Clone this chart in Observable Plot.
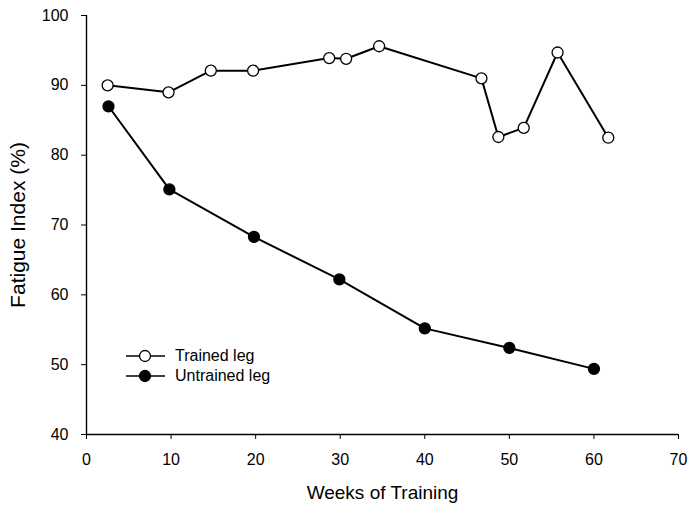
<!DOCTYPE html>
<html>
<head>
<meta charset="utf-8">
<script src="https://cdn.jsdelivr.net/npm/d3@7"></script>
<script src="https://cdn.jsdelivr.net/npm/@observablehq/plot@0.6"></script>
<style>
  body { margin: 0; background: #fff; font-family: "Liberation Sans", Arial, sans-serif; }
  #wrap { position: relative; width: 695px; height: 510px; background: #fff; }
  #wrap svg.plot { display: block; }
  g[aria-label="x-axis label"] text { font-size: 19px; }
  g[aria-label="y-axis label"] text { font-size: 21px; }
  .legend { position: absolute; left: 126px; top: 346px; font-size: 16px; color: #000; }
  .legend .row { display: flex; align-items: center; height: 20px; }
  .legend svg { margin-right: 10px; }
</style>
</head>
<body>
<div id="wrap"></div>
<script>
// ---- data ----
const trainedWeeks   = [2.5, 9.7, 14.7, 19.7, 28.7, 30.7, 34.6, 46.7, 48.7, 51.7, 55.7, 61.7];
const trainedFatigue = [90.0, 89.0, 92.1, 92.1, 93.9, 93.8, 95.6, 91.0, 82.6, 83.9, 94.7, 82.5];
const untrainedWeeks   = [2.6, 9.8, 19.8, 29.9, 40, 50, 60];
const untrainedFatigue = [87.0, 75.1, 68.3, 62.2, 55.2, 52.4, 49.4];
const xTicks = [0, 10, 20, 30, 40, 50, 60, 70];
const yTicks = [40, 50, 60, 70, 80, 90, 100];
const seriesNames = ["Trained leg", "Untrained leg"];
const xTitle = "Weeks of Training";
const yTitle = "Fatigue Index (%)";

const trained = trainedWeeks.map((w, i) => ({week: w, fatigue: trainedFatigue[i]}));
const untrained = untrainedWeeks.map((w, i) => ({week: w, fatigue: untrainedFatigue[i]}));

const chart = Plot.plot({
  width: 695,
  height: 510,
  marginLeft: 86,
  marginRight: 17,
  marginTop: 15,
  marginBottom: 76,
  style: {fontFamily: '"Liberation Sans", Arial, sans-serif', fontSize: "16px", color: "#000", background: "#fff"},
  x: {domain: [0, 70]},
  y: {domain: [40, 100]},
  marks: [
    Plot.ruleX([0], {stroke: "#000", strokeWidth: 1.4}),
    Plot.ruleY([40], {stroke: "#000", strokeWidth: 1.4}),
    Plot.axisX({ticks: xTicks, tickSize: 5, tickPadding: 14, label: xTitle, labelAnchor: "center", labelOffset: 64, labelArrow: "none", stroke: "#000", fill: "#000"}),
    Plot.axisY({ticks: yTicks, tickSize: 5, tickPadding: 13, label: yTitle, labelAnchor: "center", labelOffset: 76, labelArrow: "none", stroke: "#000", fill: "#000"}),
    Plot.line(trained, {x: "week", y: "fatigue", stroke: "#000", strokeWidth: 2}),
    Plot.dot(trained, {x: "week", y: "fatigue", r: 5.5, fill: "#fff", stroke: "#000", strokeWidth: 1.3}),
    Plot.line(untrained, {x: "week", y: "fatigue", stroke: "#000", strokeWidth: 2}),
    Plot.dot(untrained, {x: "week", y: "fatigue", r: 5.5, fill: "#000", stroke: "#000", strokeWidth: 1.3})
  ]
});
chart.classList.add("plot");
const wrap = document.getElementById("wrap");
wrap.appendChild(chart);

// legend (inside plot area, as in the reference)
const legend = document.createElement("div");
legend.className = "legend";
seriesNames.forEach((name, i) => {
  const row = document.createElement("div");
  row.className = "row";
  const fill = i === 0 ? "#fff" : "#000";
  row.innerHTML = `<svg width="39" height="20"><line x1="0" x2="39" y1="10" y2="10" stroke="#000" stroke-width="1.6"/><circle cx="19" cy="10" r="5.5" fill="${fill}" stroke="#000" stroke-width="1.3"/></svg><span>${name}</span>`;
  legend.appendChild(row);
});
wrap.appendChild(legend);
</script>
</body>
</html>
